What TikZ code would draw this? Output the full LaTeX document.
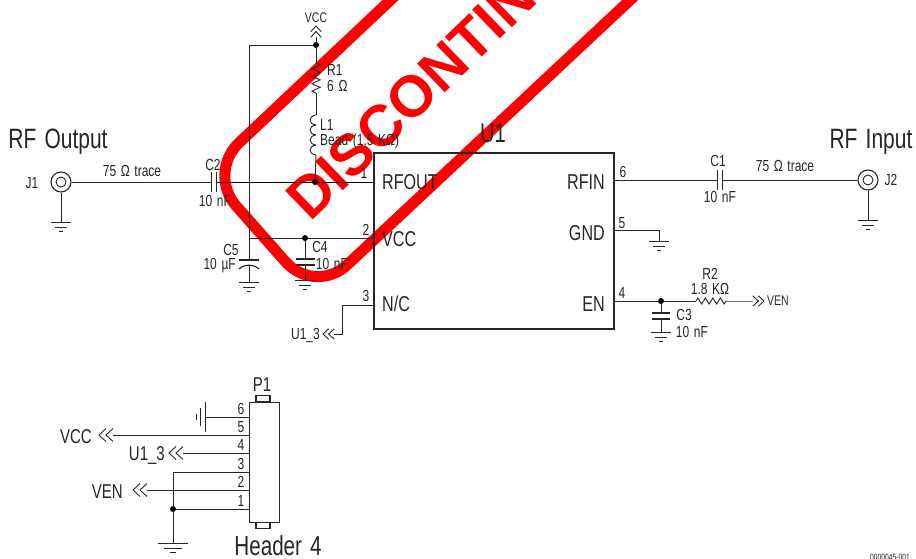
\documentclass[tikz,border=0pt]{standalone}
\usepackage{fontspec}
\setmainfont[FakeStretch=0.75,WordSpace=1.4]{Liberation Sans}
\newfontfamily\stampfont{Liberation Sans}
\usetikzlibrary{calc, decorations.pathmorphing}

\tikzset{
	wire/.style={draw=black!85, line width=0.9pt},
	lbl/.style={inner sep=0pt, font=\fontsize{16}{16}\selectfont, text=black!85},
	pinlbl/.style={inner sep=0pt, font=\fontsize{21.5}{22}\selectfont, text=black!85},
	hdrlbl/.style={inner sep=0pt, font=\fontsize{20}{20}\selectfont, text=black!85},
	title/.style={inner sep=0pt, font=\fontsize{28}{28}\selectfont, text=black!85},
	dot/.style={circle, fill=black, inner sep=0pt, minimum size=6pt},
	res/.style={wire, decorate, decoration={zigzag, amplitude=4pt, segment length=7.5pt}},
	conn/.style={circle, draw=black!85, line width=1.1pt, minimum size=20pt, inner sep=0pt, fill=white},
	conninner/.style={circle, draw=black!85, line width=0.9pt, minimum size=10pt, inner sep=0pt},
	gnd/.pic={\draw[wire] (-10,0) -- (10,0) (-6,5) -- (6,5) (-2,9) -- (2,9);},
	chevs/.pic={\draw[wire] (7,-6.5) -- (0,0) -- (7,6.5) (14,-6.5) -- (7,0) -- (14,6.5);}
}

\begin{document}
\begin{tikzpicture}[x=1pt,y=-1pt]
	\useasboundingbox (0,0) rectangle (916,558);

	% stamp goes under the schematic
	\begin{scope}
		\clip (0,0) rectangle (916,558);
		\draw[red, line width=11pt, rounded corners=44pt] (450,-56) -- (207,173) -- (315,295) -- (690,-56);
		\node[red, inner sep=0pt, anchor=base west, rotate=44, font=\stampfont\bfseries\fontsize{58}{58}\selectfont] (stamp) at (310,223) {DISCONTIN};
		\node[lbl, anchor=north, font=\fontsize{9}{9}\selectfont] (docnum) at (890,554) {0000045-001};
	\end{scope}

	% U1
	\node[draw=black!85, line width=2pt, minimum width=240pt, minimum height=176pt, inner sep=0pt, anchor=north west] (u1) at (373,152) {};
	\node[lbl, font=\fontsize{27}{27}\selectfont] (u1name) at (493,133) {U1};
	\node[pinlbl, anchor=west] (rfout) at (382,182) {RFOUT};
	\node[pinlbl, anchor=west] (vccpin) at (382,239) {VCC};
	\node[pinlbl, anchor=west] (ncpin) at (382,304) {N/C};
	\node[pinlbl, anchor=east] (rfin) at (605,182) {RFIN};
	\node[pinlbl, anchor=east] (gndpin) at (605,233) {GND};
	\node[pinlbl, anchor=east] (enpin) at (605,304) {EN};
	\coordinate (p1) at (373,182);
	\coordinate (p2) at (373,238);
	\coordinate (p3) at (373,305);
	\coordinate (p6) at (613,180);
	\coordinate (p5) at (613,230);
	\coordinate (p4) at (613,301);
	\node[lbl] at (364,173) {1};
	\node[lbl] at (366,230) {2};
	\node[lbl] at (366,296) {3};
	\node[lbl] at (623,172) {6};
	\node[lbl] at (622,223) {5};
	\node[lbl] at (622,293) {4};

	% output side
	\node[title] (rfoutput) at (58,142) {RF Output};
	\node[lbl] (j1name) at (32,183) {J1};
	\node[conn] (j1) at (61,182) {};
	\node[conninner] (j1in) at (61,182) {};
	\coordinate (j1g) at (61,222);
	\draw[wire] (j1) -- (j1g);
	\pic at (j1g) {gnd};
	\node[lbl] (trace1) at (132,171) {75 Ω trace};
	\coordinate (c2a) at (211.5,182);
	\coordinate (c2b) at (216.5,182);
	\draw[wire] (j1) -- (c2a);
	\draw[wire] ($(c2a)+(0,-10)$) -- ($(c2a)+(0,10)$);
	\draw[wire] ($(c2b)+(0,-10)$) -- ($(c2b)+(0,10)$);
	\node[lbl] (c2name) at (213,165) {C2};
	\node[lbl] (c2val) at (215,201) {10 nF};
	\node[dot] (n1) at (315,182) {};
	\draw[wire, draw=black] (c2b) -- (n1) -- (p1);

	% VCC rail
	\node[lbl, font=\fontsize{14}{14}\selectfont] (vcctop) at (316,18) {VCC};
	\coordinate (vccend) at (316,37);
	\node[dot] (n2) at (316,45) {};
	\draw[wire] (n2) -- (vccend);
	\pic[rotate=-90, scale=0.8] at (316,26) {chevs};
	\coordinate (r1a) at (316,63);
	\coordinate (r1b) at (316,93);
	\coordinate (l1a) at (316,115);
	\coordinate (l1b) at (316,155);
	\draw[wire] (n2) -- (r1a);
	\draw[res] (r1a) -- (r1b);
	\draw[wire] (r1b) -- (l1a);
	\foreach \y in {115,125,135,145}
		\draw[wire] (316,\y) .. controls (308,\y+1) and (308,\y+9) .. (316,\y+10);
	\draw[wire] (l1b) -- (n1);
	\node[lbl, anchor=west] (r1name) at (327,70) {R1};
	\node[lbl, anchor=west] (r1val) at (327,86) {6 Ω};
	\node[lbl, anchor=west] (l1name) at (320,125) {L1};
	\node[lbl, anchor=west] (l1val) at (320,141) {Bead (1.5 KΩ)};
	\coordinate (n3) at (249,45);
	\coordinate (c5a) at (249,260);
	\draw[wire] (n2) -- (n3) -- (c5a);
	\draw[wire, line width=1.2pt] (239,260) -- (259,260);
	\draw[wire, line width=1.2pt] (239,269) .. controls (244,264) and (254,264) .. (259,269);
	\coordinate (c5g) at (249,282);
	\draw[wire] (249,265) -- (c5g);
	\pic at (c5g) {gnd};
	\node[lbl] (c5name) at (231,250) {C5};
	\node[lbl, anchor=east] (c5val) at (236,266) {10 µF};
	\coordinate (n4) at (249,238);
	\node[dot] (n5) at (305,238) {};
	\draw[wire] (n4) -- (n5) -- (p2);
	\coordinate (c4a) at (305,259);
	\coordinate (c4b) at (305,265);
	\coordinate (c4g) at (305,280);
	\draw[wire] (n5) -- (c4a);
	\draw[wire] (c4b) -- (c4g);
	\draw[wire, line width=1.2pt] (296,259) -- (315,259) (296,265) -- (315,265);
	\pic at (c4g) {gnd};
	\node[lbl] (c4name) at (320,247) {C4};
	\node[lbl] (c4val) at (332,264) {10 nF};

	% pin 3
	\coordinate (n6) at (342,305);
	\coordinate (n7) at (342,334);
	\coordinate (u13end) at (334,334);
	\draw[wire] (p3) -- (n6) -- (n7) -- (u13end);
	\pic[scale=0.8] at (323,334) {chevs};
	\node[lbl, anchor=east] (u13) at (320,335) {U1\_3};

	% input side
	\node[title] (rfinput) at (871,142) {RF Input};
	\node[lbl] (j2name) at (891,180) {J2};
	\node[conn] (j2) at (868,180) {};
	\node[conninner] (j2in) at (868,180) {};
	\coordinate (j2g) at (868,220);
	\draw[wire] (j2) -- (j2g);
	\pic at (j2g) {gnd};
	\coordinate (c1a) at (717,180);
	\coordinate (c1b) at (722,180);
	\draw[wire] (p6) -- (c1a);
	\draw[wire] (c1b) -- (j2);
	\draw[wire] ($(c1a)+(0,-10)$) -- ($(c1a)+(0,10)$);
	\draw[wire] ($(c1b)+(0,-10)$) -- ($(c1b)+(0,10)$);
	\node[lbl] (c1name) at (718,161) {C1};
	\node[lbl] (c1val) at (720,197) {10 nF};
	\node[lbl] (trace2) at (785,166) {75 Ω trace};

	\coordinate (g5a) at (659,230);
	\coordinate (g5b) at (659,241);
	\draw[wire] (p5) -- (g5a) -- (g5b);
	\pic at (g5b) {gnd};

	\node[dot] (n8) at (661,301) {};
	\coordinate (r2a) at (696,301);
	\coordinate (r2b) at (727,301);
	\coordinate (venend) at (753,301);
	\draw[wire] (p4) -- (n8) -- (r2a);
	\draw[res, decoration={amplitude=3pt}] (r2a) -- (r2b);
	\draw[wire, draw=black!55] (r2b) -- (venend);
	\pic[rotate=180, scale=0.8] at (764,301) {chevs};
	\node[lbl, font=\fontsize{14}{14}\selectfont] (ven) at (778,301) {VEN};
	\node[lbl] (r2name) at (710,274) {R2};
	\node[lbl] (r2val) at (710,289) {1.8 KΩ};
	\coordinate (c3a) at (661,313);
	\coordinate (c3b) at (661,319);
	\coordinate (c3g) at (661,332);
	\draw[wire] (n8) -- (c3a);
	\draw[wire] (c3b) -- (c3g);
	\draw[wire, line width=1.2pt] (652,313) -- (670,313) (652,319) -- (670,319);
	\pic at (c3g) {gnd};
	\node[lbl] (c3name) at (684,315) {C3};
	\node[lbl] (c3val) at (692,332) {10 nF};

	% header
	\node[draw=black!85, line width=1.1pt, minimum width=14pt, minimum height=6pt, inner sep=0pt, anchor=south] (tabtop) at (263,402) {};
	\node[draw=black!85, line width=1.1pt, minimum width=14pt, minimum height=6pt, inner sep=0pt, anchor=north] (tabbot) at (263,522) {};
	\node[draw=black!85, line width=1.4pt, minimum width=30pt, minimum height=120pt, inner sep=0pt, anchor=north west] (p1box) at (249,402) {};
	\node[hdrlbl] (p1name) at (262,385) {P1};
	\node[title, font=\fontsize{27.5}{28}\selectfont] (hdr) at (278,546) {Header 4};
	\coordinate (h6) at (249,417);
	\coordinate (h5) at (249,435);
	\coordinate (h4) at (249,453);
	\coordinate (h3) at (249,472);
	\coordinate (h2) at (249,490);
	\coordinate (h1) at (249,509);
	\node[lbl] at (241,409) {6};
	\node[lbl] at (241,427) {5};
	\node[lbl] at (241,445) {4};
	\node[lbl] at (241,464) {3};
	\node[lbl] at (241,482) {2};
	\node[lbl] at (241,501) {1};
	\coordinate (g6) at (205,417);
	\draw[wire] (h6) -- (g6);
	\pic[rotate=-90, xscale=1.5] at (g6) {gnd};
	\coordinate (t5) at (113,435);
	\coordinate (t4) at (183,453);
	\coordinate (t2) at (147,490);
	\draw[wire] (h5) -- (t5);
	\draw[wire] (h4) -- (t4);
	\draw[wire] (h2) -- (t2);
	\pic at (99,435) {chevs};
	\pic at (169,453) {chevs};
	\pic at (133,490) {chevs};
	\node[hdrlbl, anchor=east] (vcchdr) at (92,437) {VCC};
	\node[hdrlbl, anchor=east] (u13hdr) at (165,455) {U1\_3};
	\node[hdrlbl, anchor=east] (venhdr) at (123,492) {VEN};
	\coordinate (c3p) at (173,472);
	\node[dot] (n9) at (173,509) {};
	\coordinate (hg) at (173,543);
	\draw[wire] (h3) -- (c3p) -- (n9) -- (hg);
	\draw[wire] (h1) -- (n9);
	\pic[xscale=1.5] at (hg) {gnd};
\end{tikzpicture}
\end{document}
